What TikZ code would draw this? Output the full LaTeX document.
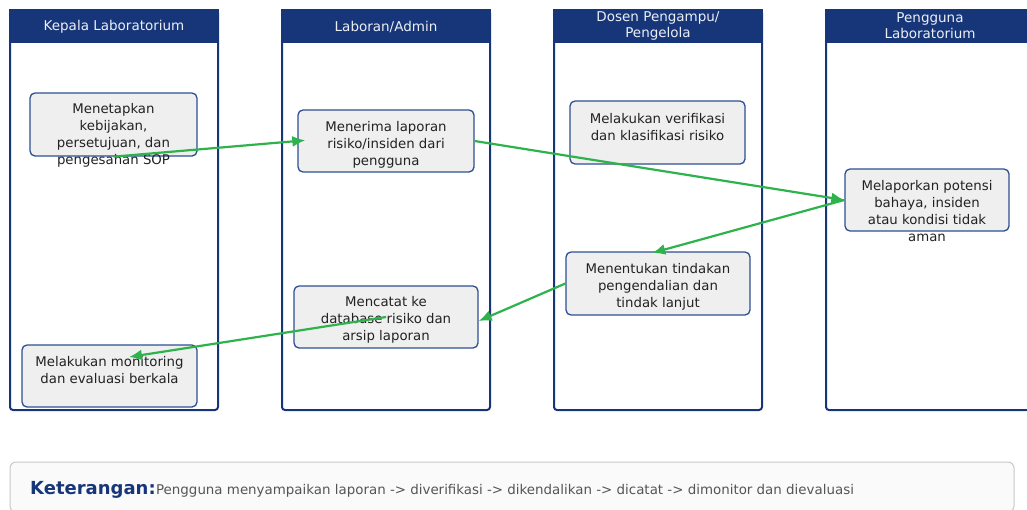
\documentclass[tikz,border=0pt]{standalone}
\usepackage{fontspec}
\setmainfont{DejaVu Sans}
\usetikzlibrary{arrows.meta,calc}
\definecolor{navy}{HTML}{17367A}
\definecolor{boxborder}{HTML}{2D4F94}
\definecolor{boxfill}{HTML}{EFEFEF}
\definecolor{flow}{HTML}{2EB34C}
\definecolor{txtc}{HTML}{222222}
\definecolor{legborder}{HTML}{C8C8C8}
\definecolor{legfill}{HTML}{FAFAFA}
\definecolor{leggray}{HTML}{555555}
\tikzset{
  lane/.style={draw=navy, line width=2pt, rounded corners=3pt, fill=white},
  headtxt/.style={text=white!92!navy, font=\fontsize{13.5}{16}\selectfont, align=center, inner sep=0pt},
  stepbox/.style={draw=boxborder, line width=1.3pt, fill=boxfill, rounded corners=5pt, inner sep=0pt},
  steptxt/.style={text=txtc, font=\fontsize{13.3}{17}\selectfont, align=center, inner sep=0pt},
  flowarrow/.style={draw=flow, line width=2.2pt, -{Latex[length=13pt,width=11pt]}},
}
\begin{document}
\begin{tikzpicture}[x=1pt,y=-1pt]
\useasboundingbox (0,0) rectangle (1027,509);
\clip (0,0) rectangle (1027,509);
% lanes
\foreach \x/\nm in {10/l1,282/l2,554/l3,826/l4}{
  \draw[lane] (\x,10) rectangle ++(208,400);
  \fill[navy] (\x-1,9) rectangle ++(210,34);
}
\node[headtxt] (h1) at (114,26.5) {Kepala Laboratorium};
\node[headtxt] (h2) at (386,26.5) {Laboran/Admin};
\node[headtxt] (h3) at (658,26) {Dosen Pengampu/\\Pengelola};
\node[headtxt] (h4) at (930,26) {Pengguna\\Laboratorium};
% step boxes
\node[stepbox, minimum width=167pt, minimum height=63pt] (n1) at (113.5,124.5) {};
\node[steptxt] (t1) at ($(n1.center)+(0,11)$) {Menetapkan\\kebijakan,\\persetujuan, dan\\pengesahan SOP};
\node[stepbox, minimum width=176pt, minimum height=62pt] (n2) at (386,141) {};
\node[steptxt] (t2) at ($(n2.center)+(0,4)$) {Menerima laporan\\risiko/insiden dari\\pengguna};
\node[stepbox, minimum width=175pt, minimum height=63pt] (n3) at (657.5,132.5) {};
\node[steptxt] (t3) at ($(n3.center)+(0,-5)$) {Melakukan verifikasi\\dan klasifikasi risiko};
\node[stepbox, minimum width=164pt, minimum height=62pt] (n7) at (927,200) {};
\node[steptxt] (t7) at ($(n7.center)+(0,11)$) {Melaporkan potensi\\bahaya, insiden\\atau kondisi tidak\\aman};
\node[stepbox, minimum width=184pt, minimum height=63pt] (n4) at (658,283.5) {};
\node[steptxt] (t4) at ($(n4.center)+(0,3.5)$) {Menentukan tindakan\\pengendalian dan\\tindak lanjut};
\node[stepbox, minimum width=184pt, minimum height=62pt] (n5) at (386,317) {};
\node[steptxt] (t5) at ($(n5.center)+(0,3)$) {Mencatat ke\\database risiko dan\\arsip laporan};
\node[stepbox, minimum width=175pt, minimum height=62pt] (n6) at (109.5,376) {};
\node[steptxt] (t6) at ($(n6.center)+(0,-5.5)$) {Melakukan monitoring\\dan evaluasi berkala};
% connectors
\coordinate (e5) at (129,357);
\draw[flowarrow, shorten >=-8pt] (n1.south) -- (n2.west);
\draw[flowarrow] (n2.east) -- (n7.west);
\draw[flowarrow, shorten >=-6pt] (n7.west) -- (n4.north);
\draw[flowarrow] (n4.west) -- ($(n5.east)+(0,4)$);
\draw[flowarrow] (n5.center) -- (e5);
% legend
\draw[draw=legborder, fill=legfill, line width=1pt, rounded corners=6pt] (10,462) rectangle (1014,512);
\node[anchor=base west, inner sep=0pt, text=navy, font=\fontsize{18}{20}\selectfont\bfseries] (k1) at (30,494) {Keterangan:};
\node[anchor=base west, inner sep=0pt, text=leggray, font=\fontsize{13.4}{15}\selectfont] (k2) at (k1.base east) {Pengguna menyampaikan laporan -> diverifikasi -> dikendalikan -> dicatat -> dimonitor dan dievaluasi};
\end{tikzpicture}
\end{document}
